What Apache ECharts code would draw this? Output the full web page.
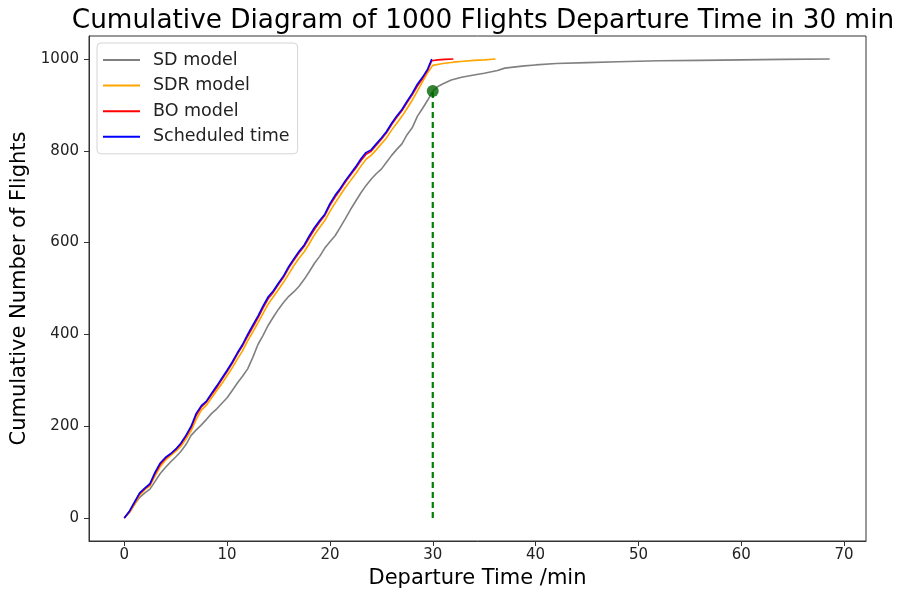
<!DOCTYPE html>
<html>
<head>
<meta charset="utf-8">
<script src="https://cdn.jsdelivr.net/npm/echarts@6/dist/echarts.min.js"></script>
<style>html,body{margin:0;padding:0;background:#fff;}#c{width:899px;height:594px;}</style>
</head>
<body>
<div id="c"></div>
<script>
// ---- data ----
const sdX = [0,0.5,1,1.5,2,2.5,3,3.5,4,4.5,5,5.5,6,6.5,7,7.5,8,8.5,9,9.5,10,10.5,11,11.5,12,12.5,13,13.5,14,14.5,15,15.5,16,16.5,17,17.5,18,18.5,19,19.5,20,20.5,21,21.5,22,22.5,23,23.5,24,24.5,25,25.5,26,26.5,27,27.5,28,28.5,29,29.5,30,30.5,31,31.8,32.8,34,35,36.3,37,38.9,40,42,45,48,52,56,60,64,68.6];
const sdY = [0,12,30,45,55,63,80,97,110,122,133,145,160,180,192,203,215,228,238,250,262,278,294,309,325,350,378,398,420,438,455,470,483,493,505,520,537,555,570,588,602,615,633,652,672,690,708,724,738,750,760,775,790,803,815,835,850,875,892,910,930,940,946,954,960,965,969,975,980,985,987,990,992,994,996,997,998,999,1000];

const sdrX = [0,0.5,1,1.5,2,2.5,3,3.5,4,4.5,5,5.5,6,6.5,7,7.5,8,8.5,9,9.5,10,10.5,11,11.5,12,12.5,13,13.5,14,14.5,15,15.5,16,16.5,17,17.5,18,18.5,19,19.5,20,20.5,21,21.5,22,22.5,23,23.5,24,24.5,25,25.5,26,26.5,27,27.5,28,28.5,29,29.5,30,31,32,33,34,35,36.1];
const sdrY = [0,12,30,50,62,70,92,112,126,136,145,156,172,190,215,235,246,262,278,293,310,327,346,364,386,405,425,446,466,482,498,514,532,550,566,580,598,617,633,648,668,686,703,720,735,750,766,781,790,802,815,828,845,860,875,892,910,930,950,970,986,990,993,995,997,998,1000];

const boX = [0,0.5,1,1.5,2,2.5,3,3.5,4,4.5,5,5.5,6,6.5,7,7.5,8,8.5,9,9.5,10,10.5,11,11.5,12,12.5,13,13.5,14,14.5,15,15.5,16,16.5,17,17.5,18,18.5,19,19.5,20,20.5,21,21.5,22,22.5,23,23.5,24,24.5,25,25.5,26,26.5,27,27.5,28,28.5,29,29.5,29.9,30.5,31.2,32];
const boY = [0,14,33,53,64,73,97,117,130,139,149,161,178,197,224,242,253,269,285,302,319,337,357,375,396,416,436,458,478,492,509,525,545,562,578,592,611,629,645,659,681,699,715,732,747,762,778,792,799,812,825,839,857,873,887,905,922,941,957,975,996,998,999,1000];

const schX = [0,0.5,1,1.5,2,2.5,3,3.5,4,4.5,5,5.5,6,6.5,7,7.5,8,8.5,9,9.5,10,10.5,11,11.5,12,12.5,13,13.5,14,14.5,15,15.5,16,16.5,17,17.5,18,18.5,19,19.5,20,20.5,21,21.5,22,22.5,23,23.5,24,24.5,25,25.5,26,26.5,27,27.5,28,28.5,29,29.5,29.9];
const schY = [0,15,35,55,65,75,100,120,132,140,150,163,180,200,228,245,255,272,288,305,322,340,360,378,400,420,440,462,482,495,512,528,548,565,581,595,615,633,648,662,685,703,718,735,750,765,782,796,802,815,828,842,860,876,890,908,925,945,960,978,1000];

const markX = 30;
const markY = 930;

const xTicks = [0,10,20,30,40,50,60,70];
const yTicks = [0,200,400,600,800,1000];

const names = ['SD model','SDR model','BO model','Scheduled time'];
const colors = ['#808080','#FFA500','#FF0000','#0000FF'];

// ---- chart ----
const zip = (a,b) => a.map((v,i)=>[v,b[i]]);
const font = "'DejaVu Sans',sans-serif";
const chart = echarts.init(document.getElementById('c'), null, {renderer:'canvas'});
const lineSeries = (name, data, color) => ({
  name, type:'line', data, showSymbol:false, symbol:'none', animation:false,
  lineStyle:{color, width:1.6}, itemStyle:{color}, z:2
});
chart.setOption({
  animation:false,
  backgroundColor:'#fff',
  title:{
    text:'Cumulative Diagram of 1000 Flights Departure Time in 30 min',
    left:478, textAlign:'center', top:3,
    textStyle:{fontFamily:font, fontWeight:'normal', fontSize:26.3, color:'#000'}
  },
  legend:{
    data:names, orient:'vertical', left:97, top:43,
    itemWidth:37, itemHeight:2, icon:'rect', itemGap:5.6,
    padding:[7,8,7,6],
    backgroundColor:'#fff', borderColor:'#d4d4d4', borderWidth:1, borderRadius:4,
    textStyle:{fontFamily:font, fontSize:17.5, color:'#222', lineHeight:20, padding:[0,0,0,8]}
  },
  grid:{left:89, right:33, top:36, bottom:53, show:true, borderColor:'#333', borderWidth:1,
        containLabel:false, outerBoundsMode:'none'},
  xAxis:{
    type:'value', min:-3.43, max:72.13,
    name:'Departure Time /min', nameLocation:'middle', nameGap:27,
    nameTextStyle:{fontFamily:font, fontSize:21, color:'#000'},
    axisLine:{show:true, onZero:false, lineStyle:{color:'#333'}},
    axisTick:{show:true, customValues:xTicks, length:5, lineStyle:{color:'#333'}},
    axisLabel:{customValues:xTicks, fontFamily:font, fontSize:15, color:'#222', margin:7},
    splitLine:{show:false}
  },
  yAxis:{
    type:'value', min:-50, max:1050,
    name:'Cumulative Number of Flights', nameLocation:'middle', nameGap:51,
    nameTextStyle:{fontFamily:font, fontSize:21, color:'#000'},
    axisLine:{show:true, onZero:false, lineStyle:{color:'#333'}},
    axisTick:{show:true, customValues:yTicks, length:5, lineStyle:{color:'#333'}},
    axisLabel:{customValues:yTicks, fontFamily:font, fontSize:15, color:'#222', margin:10,
               formatter:(v)=>String(v)},
    splitLine:{show:false}
  },
  series:[
    lineSeries(names[0], zip(sdX,sdY), colors[0]),
    lineSeries(names[1], zip(sdrX,sdrY), colors[1]),
    lineSeries(names[2], zip(boX,boY), colors[2]),
    lineSeries(names[3], zip(schX,schY), colors[3]),
    {type:'line', data:[[markX,0],[markX,markY]], showSymbol:false, symbol:'none',
     lineStyle:{color:'#008000', width:2.2, type:[6,4]}, z:3},
    {type:'scatter', data:[[markX,markY]], symbolSize:12, itemStyle:{color:'#006400'}, z:4}
  ]
});
</script>
</body>
</html>
